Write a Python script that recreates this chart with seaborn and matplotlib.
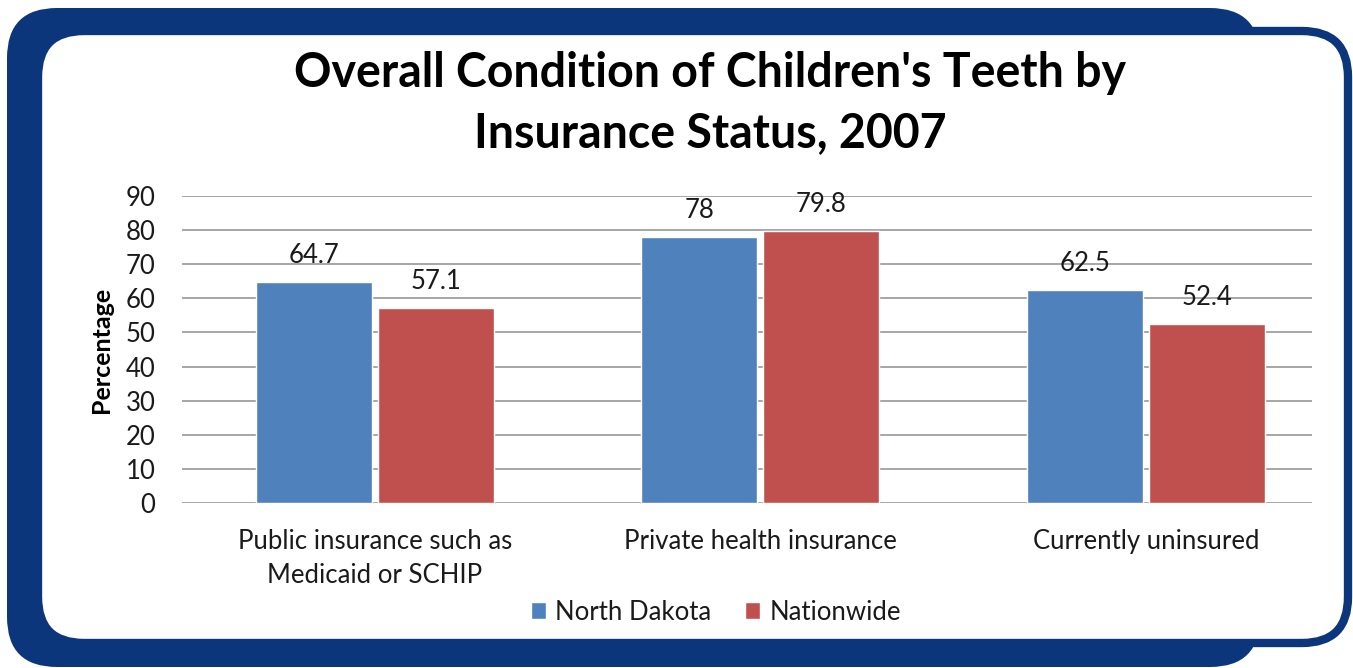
import pandas as pd
import matplotlib.pyplot as plt
import seaborn as sns
from matplotlib.patches import FancyBboxPatch, Patch

# Chart data
categories = ["Public insurance such as\nMedicaid or SCHIP",
              "Private health insurance",
              "Currently uninsured"]
north_dakota = [64.7, 78, 62.5]
nationwide = [57.1, 79.8, 52.4]
series_names = ["North Dakota", "Nationwide"]
colors = ["#4f81bd", "#c0504d"]
navy = "#0b367b"
txt = "#1a1a1a"

df = pd.DataFrame({
    "Category": categories * 2,
    "Series": [series_names[0]] * 3 + [series_names[1]] * 3,
    "Value": north_dakota + nationwide,
})

sns.set_theme(style="white")
plt.rcParams['font.family'] = ['Lato', 'DejaVu Sans']

W, H = 1353, 668
fig = plt.figure(figsize=(W / 100, H / 100), dpi=100)

# rounded frame behind the chart, in pixel coordinates
def px_box(x0, y0, x1, y1, **kw):
    return FancyBboxPatch((x0, H - y1), x1 - x0, y1 - y0, transform=None, **kw)

fig.patches.append(px_box(7, 8, 1260, 667,
                          boxstyle="round,pad=0,rounding_size=50",
                          facecolor=navy, edgecolor="none", zorder=0))
fig.patches.append(px_box(38, 31, 1348, 643,
                          boxstyle="round,pad=0,rounding_size=46",
                          facecolor="white", edgecolor=navy, linewidth=6, zorder=1))

ax = fig.add_axes([182 / W, 1 - 503 / H, 1130 / W, 307 / H])
ax.set_facecolor("none")
ax.set_zorder(2)

sns.barplot(data=df, x="Category", y="Value", hue="Series", palette=colors,
            order=categories, hue_order=series_names, width=0.633, gap=0.05,
            saturation=1, ax=ax, legend=False)

for cont in ax.containers:
    ax.bar_label(cont, fmt="%g", padding=10, fontsize=18.5, color=txt)

ax.set_xlim(-0.5, 2.431)
ax.set_ylim(0, 90)
ax.set_yticks(range(0, 91, 10))
ax.yaxis.grid(True, color="#a6a6a6", linewidth=1.4)
ax.set_axisbelow(True)
for s in ax.spines.values():
    s.set_visible(False)
ax.tick_params(axis="both", length=0, labelsize=18.5, colors=txt)
ax.tick_params(axis="y", pad=19)
ax.tick_params(axis="x", pad=19)
for lab in ax.get_xticklabels():
    lab.set_linespacing(1.45)
ax.set_xlabel("")
ax.set_ylabel("Percentage", fontsize=18, fontweight="bold", color="black")
ax.yaxis.set_label_coords((113 - 182) / 1130, 0.5)

fig.text(710 / W, 1 - 103 / H, "Overall Condition of Children's Teeth by\nInsurance Status, 2007",
         ha="center", va="center", fontsize=33.5, fontweight="bold", linespacing=1.47,
         color="black", zorder=3)

handles = [Patch(facecolor=c, label=n) for c, n in zip(colors, series_names)]
leg = fig.legend(handles=handles, loc="center", bbox_to_anchor=(716 / W, 1 - 612 / H),
                 ncol=2, frameon=False, fontsize=18.5, handlelength=0.6, handleheight=0.6,
                 handletextpad=0.35, columnspacing=1.3, labelcolor=txt)
leg.set_zorder(3)

fig.savefig("out.png", dpi=100)
